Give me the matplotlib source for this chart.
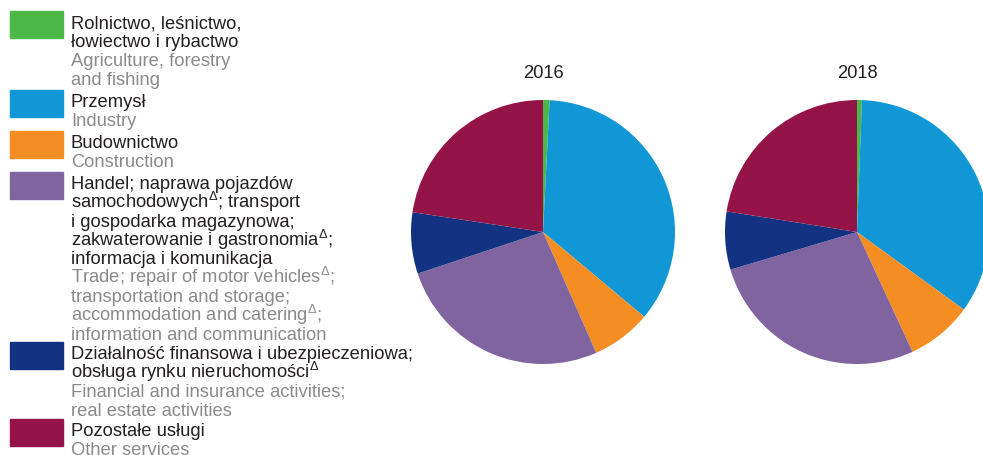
import matplotlib.pyplot as plt
from matplotlib.patches import Rectangle

plt.rcParams['font.family'] = ['Liberation Sans', 'DejaVu Sans']
plt.rcParams['mathtext.fontset'] = 'custom'
plt.rcParams['mathtext.rm'] = 'Liberation Sans'

# shares of sectors (%)
sectors = ['Rolnictwo', 'Przemysł', 'Budownictwo', 'Handel', 'Finanse', 'Pozostałe']
share_2016 = [0.8, 35.3, 7.3, 26.5, 7.5, 22.6]
share_2018 = [0.6, 34.4, 8.1, 27.3, 7.1, 22.5]
years = ['2016', '2018']
colors = ['#4cb848', '#1197d6', '#f58e22', '#8064a0', '#143282', '#951448']

# legend text: (polish lines, english lines)
legend_pl = [
    ['Rolnictwo, leśnictwo,', 'łowiectwo i rybactwo'],
    ['Przemysł'],
    ['Budownictwo'],
    ['Handel; naprawa pojazdów', r'samochodowych$^{\Delta}$; transport',
     'i gospodarka magazynowa;', r'zakwaterowanie i gastronomia$^{\Delta}$;',
     'informacja i komunikacja'],
    ['Działalność finansowa i ubezpieczeniowa;', r'obsługa rynku nieruchomości$^{\Delta}$'],
    ['Pozostałe usługi'],
]
legend_en = [
    ['Agriculture, forestry', 'and fishing'],
    ['Industry'],
    ['Construction'],
    [r'Trade; repair of motor vehicles$^{\Delta}$;', 'transportation and storage;',
     r'accommodation and catering$^{\Delta}$;', 'information and communication'],
    ['Financial and insurance activities;', 'real estate activities'],
    ['Other services'],
]
patch_top = [12, 91, 132, 173, 343, 420]

W, H = 983, 456
fig = plt.figure(figsize=(W / 100, H / 100), dpi=100)

def fx(px):
    return px / W

def fy(py):
    return 1 - py / H

# legend
fs = 13.2
line_h = 18.8
for top, pl, en, c in zip(patch_top, legend_pl, legend_en, colors):
    fig.patches.append(Rectangle((fx(10), fy(top + 27)), fx(53), 27 / H,
                                 transform=fig.transFigure, color=c))
    lines = [(t, '#231f20') for t in pl] + [(t, '#8a8a8a') for t in en]
    for i, (t, tc) in enumerate(lines):
        fig.text(fx(71), fy(top + 16.3 + i * line_h), t, color=tc,
                 fontsize=fs, va='baseline', ha='left')

# pies
centers = [543, 857]
r = 132
for cx, year, vals in zip(centers, years, [share_2016, share_2018]):
    ax = fig.add_axes([fx(cx - r), fy(233 + r), 2 * r / W, 2 * r / H])
    ax.pie(vals, colors=colors, startangle=90, counterclock=False,
           wedgeprops=dict(linewidth=0))
    ax.set_xlim(-1, 1)
    ax.set_ylim(-1, 1)
    ax.set_aspect('auto')
    ax.axis('off')
    fig.text(fx(cx), fy(78), year, fontsize=fs, color='#231f20',
             ha='center', va='baseline')

fig.savefig('out.png', dpi=100)
